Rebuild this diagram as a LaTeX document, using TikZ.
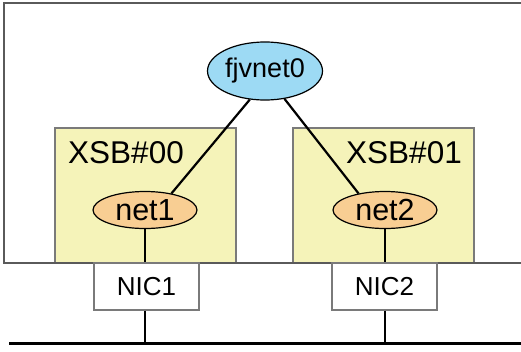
\documentclass[tikz,border=0pt]{standalone}
\usepackage{fontspec}
\setmainfont{Liberation Sans}
\usetikzlibrary{shapes.geometric}
\definecolor{xsbfill}{HTML}{F5F3B9}
\definecolor{netfill}{HTML}{F8CE93}
\definecolor{fjvfill}{HTML}{9DDAF4}
\definecolor{framegray}{HTML}{5A5A5A}
\definecolor{boxgray}{HTML}{7A7A7A}
\begin{document}
\begin{tikzpicture}[x=1pt,y=-1pt,
  xsbbox/.style={draw=boxgray,line width=1.4pt,fill=xsbfill,rectangle,minimum width=181pt,minimum height=135pt,inner sep=0pt},
  netell/.style={draw=black,line width=1.2pt,fill=netfill,ellipse,minimum width=104pt,minimum height=37pt,inner sep=0pt,font=\fontsize{30.5}{32}\selectfont},
  fjvell/.style={draw=black,line width=1.2pt,fill=fjvfill,ellipse,minimum width=115pt,minimum height=58pt,inner sep=0pt,font=\fontsize{27}{29}\selectfont},
  nicbox/.style={draw=boxgray,line width=1.4pt,fill=white,rectangle,minimum width=105pt,minimum height=47pt,inner sep=0pt,font=\fontsize{26}{28}\selectfont},
  xsblabel/.style={inner sep=0pt,font=\fontsize{31.5}{33}\selectfont},
  conn/.style={line width=2.2pt,black},
  bus/.style={line width=3pt,black}]
\useasboundingbox (0,0) rectangle (521,351);
% outer frame
\coordinate (ftr) at (521,3);
\coordinate (ftl) at (4,3);
\coordinate (fbl) at (4,263);
\coordinate (fbr) at (521,263);
\draw[framegray,line width=1.6pt] (ftr) -- (ftl) -- (fbl) -- (fbr);
% XSB boxes
\node[xsbbox] (xsb0) at (145.5,195.5) {};
\node[xsbbox] (xsb1) at (383.5,195.5) {};
\draw[framegray,line width=1.6pt] (fbl) -- (fbr);
\node[xsblabel] (xsb0l) at (126,153) {XSB\#00};
\node[xsblabel] (xsb1l) at (404,153) {XSB\#01};
% ellipses
\node[fjvell] (fjv) at (265,71) {fjvnet0};
\node[netell] (net1) at (145,210) {net1};
\node[netell] (net2) at (385,210) {net2};
% NIC boxes
\node[nicbox] (nic1) at (146.5,286.5) {NIC1};
\node[nicbox] (nic2) at (384.5,286.5) {NIC2};
% bus
\coordinate (busl) at (9,343);
\coordinate (busr) at (521,343);
\draw[bus] (busl) -- (busr);
% connectors
\draw[conn] (fjv.242) -- (net1.32);
\draw[conn] (fjv.305) -- (net2.148);
\draw[conn] (net1.south) -- (net1.south |- nic1.north);
\draw[conn] (net2.south) -- (net2.south |- nic2.north);
\draw[conn] (nic1.south -| net1.south) -- (net1.south |- busl);
\draw[conn] (nic2.south -| net2.south) -- (net2.south |- busl);
\end{tikzpicture}
\end{document}
